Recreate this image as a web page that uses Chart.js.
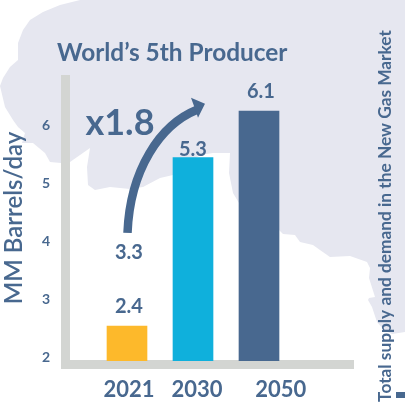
<!DOCTYPE html>
<html lang="en">
<head>
    <meta charset="UTF-8">
    <title>World's 5th Producer</title>
    <script src="https://cdn.jsdelivr.net/npm/chart.js"></script>
    <style>
        body { margin: 0; background: #fff; }
        #wrap { position: relative; width: 405px; height: 407px; overflow: hidden; }
        #map { position: absolute; left: 0; top: 0; }
        #chart { position: absolute; left: 0; top: 0; }
    </style>
</head>
<body>
<div id="wrap">
    <!-- backdrop map shape -->
    <svg id="map" width="405" height="407">
        <path fill="#e6e7f0" d="M80 0 L405 0 L405 332 L392 334 L384 330 L377 322 L372 307 L368 300 L369 298 L375 297 L369 278 L370 268 L367 262 L350 256 L330 257 L320 250 L313 245 L300 242 L295 235 L283 234 L279 230 L239 203 L233 193 L229 173 L230 153 L213 153 L200 155 L173 175 L160 178 L143 187 L130 189 L110 187 L95 190 L88 185 L87 167 L90 148 L70 162 L61 163 L50 162 L45 153 L33 143 L22 143 L25 133 L18 127 L13 120 L5 107 L0 86 L3 78 L10 67 L18 60 L18 43 L23 30 L30 20 L43 12 L60 5 Z"/>
    </svg>
    <canvas id="chart" width="405" height="407"></canvas>
</div>

<script>
    const years = ['2021', '2030', '2050'];
    const production = [2.4, 5.3, 6.1];
    const barColors = ['#fdb92b', '#0fb0dc', '#48688f'];
    const yTickValues = [2, 3, 4, 5, 6];
    const yearSlots = [0.03, 1.06, 2.33];   // the year captions do not sit square under the bars
    const arrowStart = 3.3;
    const growthLabel = 'x1.8';

    const ink = '#48688f';
    const fontFamily = 'Lato, sans-serif';

    // axis frame, sits under the bars
    const axisFrame = {
        id: 'axisFrame',
        beforeDatasetsDraw(chart) {
            const { ctx, chartArea: a } = chart;
            ctx.save();
            ctx.fillStyle = '#d3d5d2';
            ctx.fillRect(a.left - 9, a.top, 9, a.bottom + 8 - a.top);
            ctx.fillRect(a.left - 9, a.bottom - 1, a.right - a.left + 9, 9);
            ctx.restore();
        }
    };

    // title, value labels, growth arrow and the side note
    const annotations = {
        id: 'annotations',
        afterDatasetsDraw(chart) {
            const { ctx, scales } = chart;
            const bars = chart.getDatasetMeta(0).data;
            ctx.save();
            ctx.fillStyle = ink;
            ctx.strokeStyle = ink;
            ctx.textBaseline = 'middle';

            ctx.textAlign = 'left';
            ctx.font = `700 24.4px ${fontFamily}`;
            ctx.fillText('World\u2019s 5th Producer', 57, 53);

            // value on top of each bar
            const lift = [20, 8, 19];
            const shift = [2, 0, 2];
            ctx.textAlign = 'center';
            ctx.font = `700 20px ${fontFamily}`;
            production.forEach((v, i) => {
                ctx.fillText(v.toFixed(1), bars[i].x + shift[i], bars[i].y - lift[i]);
            });

            // growth arrow from the starting value
            const sx = scales.x.getPixelForValue(0);
            const sy = scales.y.getPixelForValue(arrowStart);
            ctx.fillText(arrowStart.toFixed(1), sx + 2, sy - 21);

            ctx.lineWidth = 8.5;
            ctx.beginPath();
            ctx.moveTo(sx + 0.5, sy - 41);
            ctx.bezierCurveTo(sx + 3, sy - 104, sx + 33, sy - 149, sx + 70, sy - 164);
            ctx.stroke();
            ctx.beginPath();
            ctx.moveTo(sx + 78, sy - 170);
            ctx.lineTo(sx + 64, sy - 176);
            ctx.lineTo(sx + 68, sy - 165);
            ctx.lineTo(sx + 71, sy - 156);
            ctx.closePath();
            ctx.fill();

            ctx.font = `700 36px ${fontFamily}`;
            ctx.fillText(growthLabel, 120, 123);

            // side note and its small marker
            ctx.save();
            ctx.translate(385, 216);
            ctx.rotate(-Math.PI / 2);
            ctx.font = `700 17.3px ${fontFamily}`;
            ctx.fillText('Total supply and demand in the New Gas Market', 0, 0);
            ctx.restore();
            ctx.fillRect(396, 392, 9, 6);
            ctx.restore();
        }
    };

    new Chart(document.getElementById('chart'), {
        type: 'bar',
        data: {
            datasets: [{
                data: production.map((v, i) => ({ x: i, y: v })),
                backgroundColor: barColors,
                barThickness: 40,
                xAxisID: 'x',
                yAxisID: 'y'
            }]
        },
        plugins: [axisFrame, annotations],
        options: {
            responsive: false,
            animation: false,
            layout: { padding: { top: 75, right: 51, left: 0, bottom: 0 } },
            plugins: { legend: { display: false }, tooltip: { enabled: false }, title: { display: false } },
            scales: {
                // bars are placed on these two
                x: { type: 'linear', offset: false, display: false, min: -0.8636, max: 3.4394 },
                y: { display: false, min: 1.8, max: 6.72 },
                // visible captions
                xYears: {
                    type: 'linear',
                    position: 'bottom',
                    offset: false,
                    min: -0.8636,
                    max: 3.4394,
                    grid: { display: false, drawTicks: false },
                    border: { display: false },
                    afterBuildTicks(scale) { scale.ticks = yearSlots.map(v => ({ value: v })); },
                    afterFit(scale) { scale.height = 46; },
                    ticks: {
                        autoSkip: false,
                        maxRotation: 0,
                        padding: 16,
                        color: ink,
                        font: { family: fontFamily, size: 22, weight: '700' },
                        callback: (v, i) => years[i]
                    }
                },
                yTicks: {
                    type: 'linear',
                    position: 'left',
                    min: 1.931,
                    max: 6.862,
                    grid: { display: false, drawTicks: false },
                    border: { display: false },
                    afterBuildTicks(scale) { scale.ticks = yTickValues.map(v => ({ value: v })); },
                    afterFit(scale) { scale.width = 70; },
                    title: {
                        display: true,
                        text: 'MM Barrels/day',
                        color: ink,
                        font: { family: fontFamily, size: 24, weight: '600' },
                        padding: { top: 0, bottom: 0 }
                    },
                    ticks: {
                        autoSkip: false,
                        padding: 20,
                        color: ink,
                        font: { family: fontFamily, size: 14, weight: '700' },
                        callback: v => String(v)
                    }
                }
            }
        }
    });
</script>
</body>
</html>
